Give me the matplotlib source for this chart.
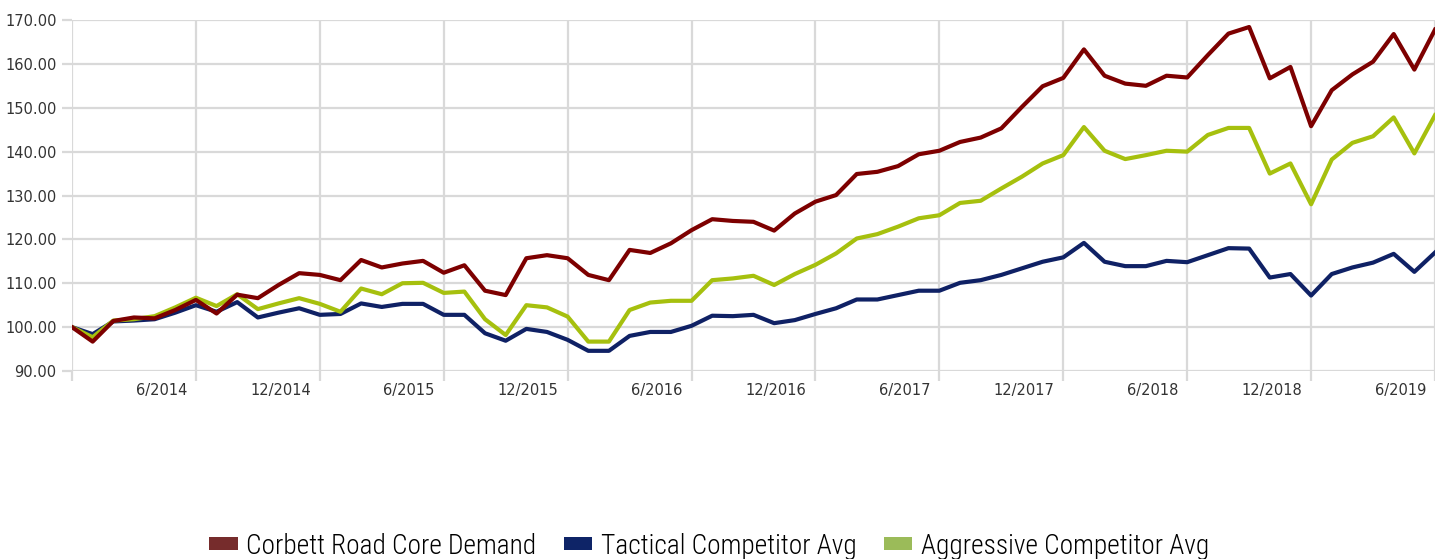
import numpy as np
import matplotlib
matplotlib.use("Agg")
import matplotlib.pyplot as plt
import matplotlib.transforms as mtransforms
from matplotlib.patches import Patch

# monthly index values, 12/2013 .. 6/2019
corbett = [100.0, 96.7, 101.4, 102.2, 102.0, 103.9, 106.2, 103.1, 107.4, 106.6,
           109.6, 112.3, 111.9, 110.7, 115.3, 113.6, 114.5, 115.1, 112.4, 114.1,
           108.3, 107.3, 115.7, 116.4, 115.7, 111.9, 110.7, 117.6, 116.9, 119.1,
           122.1, 124.6, 124.2, 124.0, 122.0, 125.9, 128.6, 130.1, 134.9, 135.4,
           136.7, 139.4, 140.2, 142.2, 143.2, 145.3, 150.2, 154.9, 156.8, 163.3,
           157.3, 155.5, 155.0, 157.3, 156.9, 162.0, 166.9, 168.4, 156.7, 159.3,
           145.8, 154.0, 157.6, 160.5, 166.8, 158.7, 167.8]
tactical = [100.0, 98.4, 101.3, 101.5, 101.8, 103.3, 105.0, 103.5, 105.7, 102.2,
            103.3, 104.3, 102.8, 103.0, 105.4, 104.6, 105.3, 105.3, 102.8, 102.8,
            98.6, 96.9, 99.6, 98.9, 97.1, 94.6, 94.6, 98.0, 98.9, 98.9,
            100.3, 102.6, 102.5, 102.8, 100.9, 101.6, 103.0, 104.3, 106.3, 106.3,
            107.3, 108.3, 108.3, 110.1, 110.7, 111.9, 113.4, 114.9, 115.9, 119.2,
            114.9, 113.9, 113.9, 115.1, 114.8, 116.4, 118.0, 117.9, 111.3, 112.1,
            107.2, 112.1, 113.6, 114.7, 116.7, 112.6, 117.0]
aggressive = [100.0, 97.7, 101.5, 101.8, 102.5, 104.5, 106.7, 104.8, 107.5, 104.1,
              105.4, 106.6, 105.3, 103.5, 108.8, 107.5, 110.0, 110.1, 107.8, 108.1,
              101.8, 98.2, 105.0, 104.5, 102.4, 96.7, 96.7, 103.9, 105.6, 106.0,
              106.0, 110.7, 111.1, 111.7, 109.6, 112.1, 114.2, 116.8, 120.2, 121.2,
              122.9, 124.8, 125.5, 128.3, 128.8, 131.6, 134.3, 137.3, 139.2, 145.6,
              140.2, 138.3, 139.2, 140.2, 140.0, 143.8, 145.4, 145.4, 135.0, 137.3,
              128.0, 138.2, 142.0, 143.5, 147.8, 139.6, 148.3]
series_names = ["Corbett Road Core Demand", "Tactical Competitor Avg", "Aggressive Competitor Avg"]
xtick_labels = ["", "6/2014", "12/2014", "6/2015", "12/2015", "6/2016", "12/2016",
                "6/2017", "12/2017", "6/2018", "12/2018", "6/2019"]
yticks = [90, 100, 110, 120, 130, 140, 150, 160, 170]

line_colors = ["#7d0000", "#0f2165", "#a6c00e"]
legend_colors = ["#762c2c", "#0e2467", "#9bbb59"]
grid_c = "#d9d9d9"

plt.rcParams["font.family"] = ["DejaVu Sans"]

fig = plt.figure(figsize=(14.35, 5.59), dpi=100)
ax = fig.add_axes([72 / 1435, 1 - 371 / 559, 1 - 72 / 1435, (371 - 20) / 559])

x = np.arange(len(corbett))
ax.plot(x, tactical, color=line_colors[1], lw=3, zorder=3)
ax.plot(x, aggressive, color=line_colors[2], lw=3, zorder=4)
ax.plot(x, corbett, color=line_colors[0], lw=3, zorder=5)

ax.set_xlim(0, len(corbett) - 1)
ax.set_ylim(90, 170)
ax.set_xticks(np.arange(0, len(corbett), 6))
ax.set_xticklabels(xtick_labels, ha="right")
ax.set_yticks(yticks)
ax.set_yticklabels(["%.2f" % v for v in yticks])

ax.grid(True, color=grid_c, lw=1.6, zorder=0)
for s in ax.spines.values():
    s.set_visible(False)
ax.tick_params(axis="both", color=grid_c, width=1.6, length=7.5, labelsize=10.5,
               labelcolor="#333333")
ax.tick_params(axis="y", pad=3.5)
ax.tick_params(axis="x", pad=1.5)

# labels sit just left of their gridline
offset = mtransforms.ScaledTranslation(-9 / 100, 0, fig.dpi_scale_trans)
for lab in ax.get_xticklabels():
    lab.set_transform(lab.get_transform() + offset)

handles = [Patch(facecolor=c, edgecolor="none") for c in legend_colors]
fig.legend(handles, series_names, loc="center", bbox_to_anchor=(709 / 1435, 1 - 546 / 559),
           ncol=3, frameon=False, handlelength=1.05, handleheight=0.33, handletextpad=0.3,
           columnspacing=1.0,
           prop={"family": ["Roboto Condensed", "DejaVu Sans"], "size": 19.7, "weight": "light"})

fig.savefig("out.png", dpi=100)
